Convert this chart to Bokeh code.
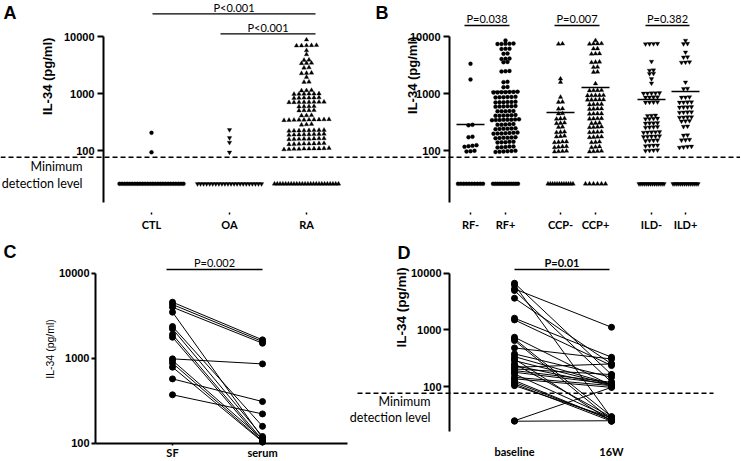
import math
from bokeh.plotting import figure
from bokeh.models import Range1d, LogAxis, LinearAxis, FixedTicker, PrintfTickFormatter, Span
from bokeh.layouts import column, row
from bokeh.embed import file_html
from bokeh.resources import INLINE
from bokeh.core.properties import value

# ---------------- data ----------------
DETECTION_LIMIT = 76        # pg/ml, dashed line
BELOW_LIMIT_VALUE = 26      # level where undetectable samples are drawn
Y_TICKS = [100, 1000, 10000]
Y_TITLE = "IL-34  (pg/ml)"
DETECT_TEXT = ["Minimum", "detection level"]

# Panel A
A_labels = ["CTL", "OA", "RA"]
A_CTL = [204, 93]
A_OA = [231, 167, 138, 93]
A_RA = [8750,
        6950, 7020, 6880, 6990, 6910,
        5680, 4830,
        3890, 3850,
        3400, 3430, 3370,
        2820, 2850,
        2275, 2300, 2250,
        1935,
        1585, 1600,
        1130, 1140, 1120,
        987, 995, 980, 990, 985, 975,
        840, 845, 835, 850, 830, 842,
        704, 710, 700, 708, 698, 706, 702, 712,
        592, 596, 588, 590,
        504, 508, 500, 506,
        411, 415, 408,
        345, 348, 342, 350, 340, 346, 344, 352, 338, 347,
        286, 290, 282,
        224, 226, 222, 228, 220, 225, 223, 227,
        191, 193, 189, 195, 187, 192, 190, 194,
        160, 162, 158, 161, 159, 163, 157, 160,
        131, 132, 130, 133, 129, 131, 134, 128,
        107, 108, 106, 109, 105, 107, 110, 104, 108, 106]
A_below_counts = [26, 22, 24]
A_pvalues = ["P<0.001", "P<0.001"]

# Panel B
B_labels = ["RF-", "RF+", "CCP-", "CCP+", "ILD-", "ILD+"]
B_RFneg = [3320, 1763, 282, 276, 175, 171, 124, 121, 119, 116, 99, 97, 96]
B_RFpos = [8500,
           7450, 7520, 7380, 7480, 7410,
           6080, 6120, 6040,
           4970, 5010,
           4060, 4100, 4020,
           3540, 3580,
           2460, 2490, 2430,
           1580, 1600,
           1290, 1305,
           1055, 1065, 1045, 1060, 1050, 1070, 1040,
           862, 870, 855, 866, 858, 874,
           704, 710, 698, 708, 700, 714,
           592, 598, 586, 595, 589, 601,
           490, 495, 486, 493, 488,
           411, 415, 407, 413, 409, 418,
           345, 348, 342, 350, 340, 346, 344, 352,
           286, 289, 283, 291, 284,
           240, 243, 237, 245, 238, 241,
           201, 204, 198, 206, 199, 203, 197,
           167, 169, 165, 171, 164, 168,
           140, 142, 138, 143, 139,
           115, 117, 113, 118, 114,
           96, 97, 95, 98, 94, 99]
B_CCPneg = [7450, 7380, 1810, 1580, 862, 704, 712, 537, 543, 440, 446,
            361, 366, 356, 302, 306, 298, 256, 260, 210, 213, 207,
            177, 180, 174, 140, 142, 138, 143, 115, 117, 113, 118, 96, 97, 95, 98]
B_CCPpos = [8500, 7450, 7520, 7380, 7480, 6080, 6120, 4970, 5010, 4930,
            3540, 3580, 3500, 2890, 2920, 2370, 2400, 1485,
            1130, 1140, 1120, 1135, 925, 932, 918, 928, 920,
            775, 780, 770, 778, 772, 644, 650, 638, 646, 537, 542, 532, 540,
            440, 444, 436, 442, 361, 364, 358, 366, 302, 305, 299,
            256, 259, 253, 261, 210, 213, 207, 211, 171, 173, 169, 174,
            140, 142, 138, 115, 117, 113, 96, 97, 95, 98]
B_ILDneg = [7450, 7520, 7380, 7480, 3640, 2540, 2570, 2220, 2250, 1810, 1515,
            1015, 1025, 1005, 1020, 1010, 862, 870, 855, 866, 704, 710, 698, 708,
            411, 415, 407, 361, 364, 358, 366, 302, 305, 299, 303,
            256, 259, 253, 261, 210, 213, 207, 211, 209, 177, 180, 174, 178, 176,
            150, 152, 148, 151, 122, 124, 120, 123, 100, 101, 99, 102]
B_ILDpos = [8500, 7450, 7520, 5300, 4330, 4380, 3540, 3580, 3500, 1580, 1210, 1225,
            862, 870, 855, 704, 710, 698, 708, 576, 582, 570, 579,
            470, 475, 465, 472, 384, 388, 380, 386, 329, 333, 326,
            263, 267, 184, 187, 154, 156, 152, 115, 117, 113, 118]
B_below_counts = [10, 12, 12, 6, 14, 14]
B_means = [286, 1085, 464, 1275, 785, 1085]
B_pvalues = ["P=0.038", "P=0.007", "P=0.382"]

# Panel C (paired: synovial fluid vs serum)
C_labels = ["SF", "serum"]
C_SF = [4560, 4280, 3980, 3480, 2360, 2215, 1900, 1765, 982, 940, 873, 784, 571, 371]
C_serum = [1643, 1570, 1500, 115, 158, 120, 109, 103, 857, 112, 106, 104, 309, 221]
C_pvalue = "P=0.002"

# Panel D (paired: baseline vs 16 weeks)
D_labels = ["baseline", "16W"]
D_baseline = [6660, 6220, 5290, 4940, 3620, 1607, 1500, 742, 693, 648, 481, 377, 338, 307,
              287, 251, 235, 219, 205, 192, 179, 167, 146, 137, 128, 119, 111, 104, 25, 24.5]
D_16W = [163, 28, 1114, 119, 251, 330, 235, 104, 29.6, 25.8, 307, 146, 111, 24.5,
         108, 29, 104, 251, 163, 119, 111, 28, 104, 97, 25.8, 26, 24.5, 28, 97, 25]
D_pvalue = "P=0.01"

# ---------------- layout helpers ----------------
AXIS_FONT = "Liberation Sans"
TEXT_FONT = "Lato"


class Panel:
    def __init__(self, x0, y0, w, h, y10k, dec):
        self.x0, self.y0, self.y10k, self.dec = x0, y0, y10k, dec
        self.p = figure(width=w, height=h, x_range=Range1d(0, w),
                        y_range=Range1d(self.v(y0 + h), self.v(y0)),
                        y_axis_type="log", x_axis_location=None, y_axis_location=None,
                        output_backend="svg", toolbar_location=None, min_border=0,
                        outline_line_color=None, background_fill_color="white",
                        border_fill_color="white")
        for g in self.p.grid:
            g.visible = False
            g.grid_line_color = None

    def v(self, ry):
        return 10 ** (4 - (ry - self.y10k) / self.dec)

    def x(self, rx):
        return rx - self.x0

    def text(self, rx, ry, s, size, font=TEXT_FONT, style="normal", align="center", angle=0.0):
        self.p.text(x=[self.x(rx)], y=[self.v(ry)], text=[s], text_font=value(font),
                    text_font_size=size, text_font_style=style, text_align=align,
                    text_baseline="middle", angle=angle, text_color="black")

    def y_axis(self, rx, bottom_ry, tick_out=6, standoff=3):
        ax = LogAxis(fixed_location=self.x(rx), bounds=(self.v(bottom_ry), 10000),
                     ticker=FixedTicker(ticks=Y_TICKS, minor_ticks=[]),
                     formatter=PrintfTickFormatter(format="%d"),
                     axis_line_width=2, axis_line_color="black",
                     major_tick_line_width=2, major_tick_line_color="black",
                     major_tick_out=tick_out, major_tick_in=0,
                     minor_tick_out=0, minor_tick_in=0,
                     major_label_text_font=AXIS_FONT, major_label_text_font_style="bold",
                     major_label_text_color="black",
                     major_label_text_font_size="11px", major_label_standoff=standoff)
        self.p.add_layout(ax, "left")

    def x_axis(self, ry, centers, labels, tick_out=2, standoff=3, line=False, bounds=None):
        ticks = [int(round(self.x(c))) for c in centers]
        ax = LinearAxis(fixed_location=self.v(ry),
                        ticker=FixedTicker(ticks=ticks, minor_ticks=[]),
                        major_label_overrides={t: l for t, l in zip(ticks, labels)},
                        axis_line_width=2, axis_line_color="black" if line else None,
                        major_tick_out=tick_out, major_tick_in=0, major_tick_line_width=1.5,
                        major_tick_line_color="black" if tick_out > 0 else None,
                        minor_tick_out=0, minor_tick_in=0,
                        major_label_text_font=TEXT_FONT, major_label_text_font_style="bold",
                        major_label_text_color="black",
                        major_label_text_font_size="11px", major_label_standoff=standoff)
        if bounds is not None:
            ax.bounds = (self.x(bounds[0]), self.x(bounds[1]))
        self.p.add_layout(ax, "below")

    def bracket(self, rx0, rx1, ry, label, label_ry, size="11px", style="normal"):
        self.p.segment(x0=[self.x(rx0)], y0=[self.v(ry)], x1=[self.x(rx1)], y1=[self.v(ry)],
                       line_color="black", line_width=1.3)
        self.text((rx0 + rx1) / 2, label_ry, label, size, style=style)


def swarm(values, center, dec, step, half_width, row_px=2.5):
    rows = []
    for v in sorted(values):
        if rows and (math.log10(v) - math.log10(rows[-1][0])) * dec < row_px:
            rows[-1].append(v)
        else:
            rows.append([v])
    xs, ys = [], []
    for r in rows:
        n = len(r)
        s = step if n < 2 else min(step, 2 * half_width / (n - 1))
        for i, v in enumerate(r):
            xs.append(center + (i - (n - 1) / 2) * s)
            ys.append(v)
    return xs, ys


def scatter_groups(P, series, below_counts, centers, markers, sizes, step, half, below_half):
    for vals, nb, c, m, sz in zip(series, below_counts, centers, markers, sizes):
        xs, ys = swarm(vals, P.x(c), P.dec, step, half)
        bx, by = swarm([BELOW_LIMIT_VALUE] * nb, P.x(c), P.dec, step, below_half)
        P.p.scatter(x=xs + bx, y=ys + by, marker=m, size=sz,
                    fill_color="black", line_color="black", line_width=0.3)


def detect_label(P, right_rx, ry1, ry2):
    P.text(right_rx, ry1, DETECT_TEXT[0], "12.5px", align="right")
    P.text(right_rx, ry2, DETECT_TEXT[1], "12.5px", align="right")


# ---------------- panel A ----------------
PA = Panel(x0=0, y0=0, w=368, h=230, y10k=36, dec=57)
A_centers = [151, 229, 306]
PA.p.add_layout(Span(location=DETECTION_LIMIT, dimension="width", line_color="black",
                     line_width=1.5, line_dash="5 3"))
PA.y_axis(103, 202)
PA.x_axis(212, A_centers, A_labels)
scatter_groups(PA, [A_CTL, A_OA, A_RA], A_below_counts, A_centers,
               ["circle", "inverted_triangle", "triangle"], [4, 4.5, 4.5], 5, 31, 32)
PA.bracket(152, 315, 13.3, A_pvalues[0], 7)
PA.bracket(220, 315, 33.3, A_pvalues[1], 27)
PA.text(47, 74, Y_TITLE, "13px", font=AXIS_FONT, style="bold", angle=math.pi / 2)
PA.text(3, 12, "A", "18px", font=AXIS_FONT, style="bold", align="left")
detect_label(PA, 82, 166, 183)

# ---------------- panel B ----------------
PB = Panel(x0=368, y0=0, w=372, h=230, y10k=36, dec=57)
B_centers = [470, 505, 560, 595, 651, 685]
PB.p.add_layout(Span(location=DETECTION_LIMIT, dimension="width", line_color="black",
                     line_width=1.5, line_dash="5 3"))
PB.y_axis(449, 202)
PB.x_axis(212, B_centers, B_labels)
scatter_groups(PB, [B_RFneg, B_RFpos, B_CCPneg, B_CCPpos, B_ILDneg, B_ILDpos], B_below_counts,
               B_centers, ["circle", "circle", "triangle", "triangle",
                           "inverted_triangle", "inverted_triangle"],
               [4, 4, 4.5, 4.5, 4.5, 4.5], 4, 13.5, 12.5)
PB.p.segment(x0=[PB.x(c) - 14 for c in B_centers], y0=B_means,
             x1=[PB.x(c) + 14 for c in B_centers], y1=B_means,
             line_color="black", line_width=1.5)
for k, pv in enumerate(B_pvalues):
    PB.bracket(B_centers[2 * k] - 6, B_centers[2 * k + 1] + 4, 25, pv, 18)
PB.text(412, 73, Y_TITLE, "13px", font=AXIS_FONT, style="bold", angle=math.pi / 2)
PB.text(375, 12, "B", "18px", font=AXIS_FONT, style="bold", align="left")

# ---------------- panel C ----------------
PC = Panel(x0=0, y0=230, w=348, h=230, y10k=272.7, dec=85)
C_centers = [172, 262]
PC.y_axis(95, 442.7, tick_out=4, standoff=2)
PC.x_axis(442.7, C_centers, C_labels, tick_out=2, standoff=1, line=True, bounds=(95, 347))
PC.p.segment(x0=[PC.x(C_centers[0])] * len(C_SF), y0=C_SF,
             x1=[PC.x(C_centers[1])] * len(C_serum), y1=C_serum,
             line_color="black", line_width=1)
PC.p.scatter(x=[PC.x(C_centers[0])] * len(C_SF) + [PC.x(C_centers[1])] * len(C_serum),
             y=C_SF + C_serum, marker="circle", size=6, fill_color="black", line_color="black")
PC.bracket(166, 262, 269, C_pvalue, 262)
PC.text(49, 347, Y_TITLE, "10.5px", font=AXIS_FONT, angle=math.pi / 2)
PC.text(3, 251, "C", "18px", font=AXIS_FONT, style="bold", align="left")

# ---------------- panel D ----------------
PD = Panel(x0=348, y0=230, w=392, h=230, y10k=272.7, dec=56.7)
D_centers = [514, 611]
PD.p.segment(x0=[PD.x(357)], y0=[DETECTION_LIMIT], x1=[PD.x(713)], y1=[DETECTION_LIMIT],
             line_color="black", line_width=1.5, line_dash="5 3")
PD.y_axis(449, 431, tick_out=6, standoff=2)
PD.x_axis(441, D_centers, D_labels, tick_out=0, standoff=3)
PD.p.segment(x0=[PD.x(D_centers[0])] * len(D_baseline), y0=D_baseline,
             x1=[PD.x(D_centers[1])] * len(D_16W), y1=D_16W,
             line_color="black", line_width=1)
PD.p.scatter(x=[PD.x(D_centers[0])] * len(D_baseline) + [PD.x(D_centers[1])] * len(D_16W),
             y=D_baseline + D_16W, marker="circle", size=6, fill_color="black", line_color="black")
PD.bracket(514, 609, 269, D_pvalue, 262, style="bold")
PD.text(401, 305, Y_TITLE, "13.5px", font=AXIS_FONT, style="bold", angle=math.pi / 2)
PD.text(397, 252, "D", "18px", font=AXIS_FONT, style="bold", align="left")
detect_label(PD, 430, 401, 417)

layout = column(row(PA.p, PB.p), row(PC.p, PD.p))
open("out.html", "w").write(file_html(layout, INLINE))
